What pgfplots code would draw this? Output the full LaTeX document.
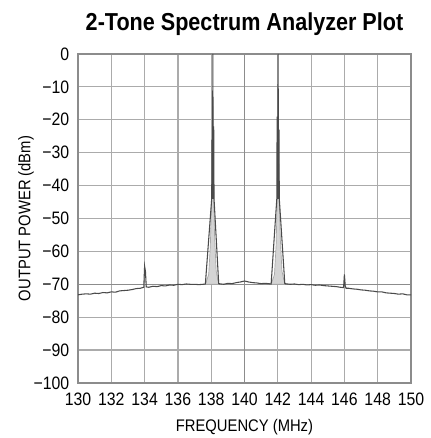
\documentclass[border=0pt]{standalone}
\usepackage{fontspec}
\setmainfont{Liberation Sans}[FakeStretch=0.88]
\usepackage{pgfplots}
\pgfplotsset{compat=1.18}

\definecolor{gridgray}{HTML}{ABABAB}
\definecolor{framegray}{HTML}{8C8C8C}
\definecolor{tracedark}{HTML}{4A4A4A}
\definecolor{tracelight}{HTML}{D4D4D4}
\definecolor{skirt}{HTML}{A8A8A8}

\begin{document}
\begin{tikzpicture}
\path[use as bounding box] (-58.5pt,-41.25pt) rectangle (264pt,287.25pt);
\begin{axis}[
    scale only axis,
    width=249.75pt,
    height=246.75pt,
    xmin=130, xmax=150,
    ymin=-100, ymax=0,
    xtick={130,132,...,150},
    ytick={-100,-90,...,0},
    yticklabels={−100,−90,−80,−70,−60,−50,−40,−30,−20,−10,0},
    /pgf/number format/assume math mode=true,
    major tick length=0pt,
    grid=major,
    grid style={gridgray, line width=0.9pt},
    axis line style={framegray, line width=1.1pt},
    tick label style={font=\fontsize{13.5}{14}\selectfont},
    xticklabel style={yshift=-4pt},
    yticklabel style={xshift=-3pt},
    xlabel={FREQUENCY (MHz)},
    ylabel={OUTPUT POWER (dBm)},
    label style={font=\fontsize{12.6}{13}\selectfont},
    xlabel style={yshift=-3pt},
    ylabel style={yshift=-7pt},
    title={\textbf{2-Tone Spectrum Analyzer Plot}},
    title style={font=\fontsize{18.4}{20}\selectfont, yshift=4pt},
    clip=true,
]
% darker centre grid lines
\addplot[framegray, line width=0.9pt] coordinates {(140,-100)(140,0)};
\addplot[framegray, line width=0.9pt] coordinates {(130,-70)(150,-70)};

% light trace (broad tone skirts)
\addplot[fill=tracelight, draw=skirt, line width=0.5pt] coordinates {
(137.65,-70)(137.85,-67)(137.95,-58)(138.02,-45)(138.07,-20)(138.10,-14)
(138.14,-40)(138.20,-55)(138.30,-66)(138.45,-70)
} -- cycle;
\addplot[fill=tracelight, draw=skirt, line width=0.5pt] coordinates {
(141.60,-70)(141.80,-67)(141.90,-58)(141.96,-45)(142.00,-20)(142.05,-25)
(142.09,-45)(142.15,-56)(142.25,-66)(142.42,-70)
} -- cycle;

% dark trace (spectrum)
\addplot[tracedark, line width=0.8pt] coordinates {
(130.00,-73.2)(130.25,-73.0)(130.50,-72.9)(130.75,-73.0)(131.00,-72.7)
(131.25,-72.8)(131.50,-72.5)(131.75,-72.6)(132.00,-72.3)(132.25,-72.4)
(132.50,-72.0)(132.75,-71.9)(133.00,-71.8)(133.25,-71.6)(133.50,-71.3)
(133.75,-71.2)(133.95,-70.9)(134.00,-64.5)(134.05,-66.0)(134.10,-70.8)
(134.25,-70.9)(134.50,-70.6)(134.75,-70.7)(135.00,-70.4)(135.25,-70.5)
(135.50,-70.2)(135.75,-70.3)(136.00,-70.0)(136.25,-70.1)(136.50,-69.9)
(136.75,-70.0)(137.00,-70.0)(137.25,-70.1)(137.50,-70.0)(137.65,-69.9)
(138.03,-44.0)(138.05,-26.0)(138.08,-44.0)
(138.10,0.0)(138.12,-44.0)(138.15,-22.0)(138.17,-44.0)
(138.45,-69.8)(138.75,-70.0)(139.00,-69.7)(139.25,-69.8)
(139.50,-69.5)(139.75,-69.3)(140.00,-69.0)(140.25,-69.3)(140.50,-69.5)
(140.75,-69.6)(141.00,-69.8)(141.25,-69.7)(141.60,-69.9)
(141.94,-44.0)(141.96,-19.0)(141.99,-44.0)
(142.02,0.0)(142.04,-44.0)(142.07,-23.0)(142.09,-44.0)
(142.42,-69.8)(142.75,-70.0)(143.00,-69.9)(143.25,-70.1)
(143.50,-70.0)(143.75,-70.2)(144.00,-70.1)(144.25,-70.3)(144.50,-70.2)
(144.75,-70.4)(145.00,-70.5)(145.25,-70.6)(145.50,-70.7)(145.75,-70.9)
(145.95,-71.0)(146.00,-67.0)(146.05,-70.5)(146.10,-71.2)(146.25,-71.2)
(146.50,-71.4)(146.75,-71.5)(147.00,-71.7)(147.25,-71.8)(147.50,-72.0)
(147.75,-72.1)(148.00,-72.3)(148.25,-72.3)(148.50,-72.6)(148.75,-72.7)
(149.00,-72.8)(149.25,-73.0)(149.50,-72.9)(149.75,-73.2)(150.00,-73.2)
};
\end{axis}
\end{tikzpicture}
\end{document}
